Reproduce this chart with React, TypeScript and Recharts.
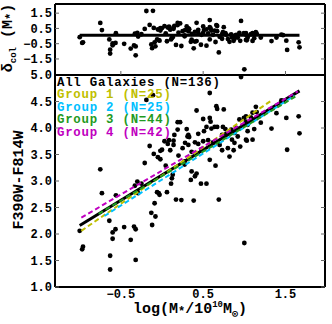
import React from 'react';
import { ComposedChart, Scatter, XAxis, YAxis } from 'recharts';

// log(M*/1e10 Msun) for every galaxy
const logMass = [
  -1.0, -0.97, -0.96, -0.75, -0.73, -0.64, -0.63, -0.63, -0.6, -0.6,
  -0.565, -0.56, -0.46, -0.38, -0.34, -0.32, -0.32, -0.33, -0.29, -0.3,
  -0.21, -0.19, -0.11, -0.15, -0.13, -0.12, -0.1, -0.08, -0.09, -0.06,
  -0.04, -0.03, -0.02, 0.0, -0.02, 0.03, 0.045, 0.06, 0.07, 0.085,
  0.11, 0.12, 0.13, 0.14, 0.14, 0.15, 0.17, 0.19, 0.22, 0.2,
  0.19, 0.235, 0.275, 0.275, 0.3, 0.31, 0.32, 0.32, 0.33, 0.35,
  0.36, 0.385, 0.4, 0.42, 0.4, 0.42, 0.44, 0.44, 0.473, 0.5,
  0.5, 0.51, 0.54, 0.54, 0.56, 0.58, 0.58, 0.59, 0.6, 0.64,
  0.65, 0.66, 0.67, 0.67, 0.69, 0.73, 0.73, 0.74, 0.75, 0.77,
  0.78, 0.82, 0.84, 0.85, 0.87, 0.88, 0.88, 0.92, 0.94, 0.96,
  0.995, 1.0, 1.02, 1.02, 1.02, 1.04, 1.04, 1.03, 1.08, 1.1,
  1.1, 1.14, 1.15, 1.12, 1.33, 1.39, 1.45, 1.47, 1.51, 1.52,
  1.66, 1.67,
  0.25, 0.36, 0.48, 0.62, 0.7, 0.8, -0.05, 0.1, 0.28, 0.9, 1.2, 0.58, 0.95, -0.25,
];

// F390W-F814W colour
const colour = [
  2.06, 1.71, 1.76, 3.22, 2.77, 2.25, 1.59, 1.33, 2.03, 1.91,
  2.09, 2.73, 2.13, 1.89, 2.14, 2.09, 1.51, 2.91, 2.77, 2.99,
  3.34, 4.53, 4.62, 3.66, 2.4, 2.17, 3.51, 2.33, 2.58, 2.79,
  2.77, 2.74, 3.57, 3.59, 3.41, 3.75, 3.29, 2.79, 3.7, 3.77,
  2.95, 3.05, 3.12, 3.76, 3.68, 3.87, 2.65, 4.11, 4.11, 3.48,
  3.97, 2.64, 3.37, 3.31, 3.98, 3.84, 3.68, 3.87, 3.83, 3.02,
  3.18, 2.63, 3.09, 3.14, 3.73, 4.33, 3.89, 3.7, 2.95, 4.17,
  3.75, 3.94, 2.95, 4.02, 3.77, 4.66, 4.19, 4.12, 3.99, 4.02,
  3.29, 4.41, 4.36, 4.02, 2.65, 3.87, 3.58, 4.02, 4.35, 3.98,
  3.89, 3.46, 3.97, 3.78, 3.58, 3.91, 3.72, 3.84, 4.16, 4.96,
  4.19, 1.83, 4.22, 4.12, 3.78, 4.06, 3.94, 3.76, 4.2, 4.29,
  3.78, 4.4, 4.3, 3.98, 3.99, 4.28, 4.52, 4.51, 4.19, 3.59,
  4.22, 3.9,
  3.62, 3.55, 3.6, 3.73, 3.68, 3.62, 3.45, 3.58, 3.72, 4.0, 4.1, 3.4, 3.65, 2.95,
];

// delta_col residuals (top panel)
const deltaCol = [
  -0.07, -0.45, -0.41, 0.86, 0.39, -0.22, -0.89, -1.15, -0.48, -0.6,
  -0.45, 0.19, -0.51, -0.82, -0.61, -0.68, -1.26, 0.15, -0.03, 0.2,
  0.47, 1.64, 1.65, 0.73, -0.55, -0.79, 0.53, -0.67, -0.41, -0.22,
  -0.26, -0.3, 0.52, 0.52, 0.36, 0.65, 0.18, -0.34, 0.56, 0.62,
  -0.22, -0.13, -0.07, 0.56, 0.48, 0.66, -0.58, 0.86, 0.83, 0.22,
  0.72, -0.65, 0.04, -0.02, 0.63, 0.48, 0.31, 0.5, 0.45, -0.38,
  -0.23, -0.8, -0.36, -0.33, 0.28, 0.87, 0.41, 0.22, -0.57, 0.63,
  0.21, 0.39, -0.63, 0.44, 0.17, 1.05, 0.58, 0.5, 0.36, 0.35,
  -0.39, 0.72, 0.66, 0.32, -1.07, 0.11, -0.18, 0.25, 0.58, 0.19,
  0.09, -0.38, 0.11, -0.09, -0.31, 0.01, -0.18, -0.1, 0.21, 0.99,
  0.19, -2.18, 0.19, 0.09, -0.25, 0.01, -0.11, -0.28, 0.12, 0.19,
  -0.32, 0.26, 0.15, -0.14, -0.33, -0.1, 0.09, 0.06, -0.3, -0.91,
  -0.41, -0.74,
  0.32, 0.14, 0.08, 0.08, -0.05, -0.2, 0.43, 0.42, 0.39, 0.08, -0.1, -0.22, -0.31, 0.12,
];

// fit lines: All galaxies + 4 groups
const fitNames = ['All Galaxies', 'Group 1', 'Group 2', 'Group 3', 'Group 4'];
const fitCounts = [136, 25, 25, 44, 42];
const fitStartX = [-1.0, -0.98, -0.7, -0.77, -0.98];
const fitStartY = [2.16, 2.06, 2.34, 2.38, 2.31];
const fitEndX = [1.67, 1.33, 1.61, 1.65, 1.65];
const fitEndY = [4.7, 4.52, 4.61, 4.62, 4.69];

// zero line of the residual panel
const resLineX = [-1.0, 1.67];
const resLineY = [0.05, 0.05];

const xTicks = [-0.5, 0.5, 1.5];
const yTicksBottom = [1.0, 1.5, 2.0, 2.5, 3.0, 3.5, 4.0, 4.5, 5.0];
const yTicksTop = [-1.5, -0.5, 0.5, 1.5];

const fitColors = ['#000000', '#bfbf00', '#00bfff', '#1f9a1f', '#c000c0'];
const MONO = "'Liberation Mono', 'DejaVu Sans Mono', monospace";
const xDomain: [number, number] = [-1.3, 1.98];

const fmt = (v: number) => (v < 0 ? '\u2212' + Math.abs(v).toFixed(1) : v.toFixed(1));
const blank = () => '';
const tickFont = { fontSize: 12, fontFamily: MONO, fontWeight: 'bold', fill: '#000' };

const Dot = (props: any) => <circle cx={props.cx} cy={props.cy} r={2.4} fill="#000" />;
const NoDot = () => <g />;

const mainPoints = logMass.map((x, i) => ({ x, y: colour[i] }));
const residPoints = logMass.map((x, i) => ({ x, y: deltaCol[i] }));
const fitData = fitNames.map((_, i) => [
  { x: fitStartX[i], y: fitStartY[i] },
  { x: fitEndX[i], y: fitEndY[i] },
]);
const resLine = resLineX.map((x, i) => ({ x, y: resLineY[i] }));

const frame = { stroke: '#000', strokeWidth: 2 };
const star = <span style={{ fontSize: 12, position: 'relative', top: 2 }}>*</span>;

function frameAxes(yDomain: [number, number], yTicks: number[]) {
  return [
    <XAxis key="bt" xAxisId="bt" type="number" domain={xDomain} allowDataOverflow ticks={xTicks} interval={0} mirror tickSize={4} tickFormatter={blank} stroke="#666" axisLine={false} />,
    <XAxis key="tp" xAxisId="tp" orientation="top" type="number" domain={xDomain} allowDataOverflow ticks={xTicks} interval={0} mirror tickSize={4} tickFormatter={blank} stroke="#666" axisLine={frame} />,
    <YAxis key="lt" yAxisId="lt" type="number" domain={yDomain} allowDataOverflow ticks={yTicks} interval={0} mirror tickSize={4} tickFormatter={blank} stroke="#666" axisLine={false} />,
    <YAxis key="rt" yAxisId="rt" orientation="right" type="number" domain={yDomain} allowDataOverflow ticks={yTicks} interval={0} mirror tickSize={4} tickFormatter={blank} stroke="#666" axisLine={frame} />,
  ];
}

export default function App() {
  return (
    <div style={{ position: 'absolute', left: 0, top: 0, width: 332, height: 324, background: '#fff', fontFamily: MONO, fontWeight: 'bold' }}>
      {/* bottom panel: colour vs mass */}
      <div style={{ position: 'absolute', left: 0, top: 0 }}>
        <ComposedChart width={332} height={324} margin={{ top: 75, right: 7, bottom: 0, left: 0 }}>
          <XAxis dataKey="x" type="number" domain={xDomain} allowDataOverflow ticks={xTicks} interval={0} tickFormatter={fmt} tickSize={0} tickMargin={2} height={37} axisLine={frame} tick={tickFont} />
          <YAxis dataKey="y" type="number" domain={[1, 5]} allowDataOverflow ticks={yTicksBottom} interval={0} tickFormatter={fmt} tickSize={0} tickMargin={3} width={55} axisLine={frame} tick={tickFont} />
          {frameAxes([1, 5], yTicksBottom)}
          <Scatter data={mainPoints} shape={Dot} isAnimationActive={false} />
          {fitData.map((d, i) => (
            <Scatter
              key={fitNames[i]}
              data={d}
              shape={NoDot}
              isAnimationActive={false}
              line={{ stroke: fitColors[i], strokeWidth: i === 0 ? 3 : 2, strokeDasharray: i === 0 ? undefined : '5 3' }}
            />
          ))}
        </ComposedChart>
      </div>

      {/* top panel: residuals */}
      <div style={{ position: 'absolute', left: 0, top: 0 }}>
        <ComposedChart width={332} height={76} margin={{ top: 4, right: 7, bottom: 1, left: 0 }}>
          <XAxis dataKey="x" type="number" domain={xDomain} allowDataOverflow ticks={xTicks} interval={0} mirror tickSize={4} tickFormatter={blank} stroke="#666" axisLine={frame} />
          <YAxis dataKey="y" type="number" domain={[-2.55, 2.1]} allowDataOverflow ticks={yTicksTop} interval={0} tickFormatter={fmt} tickSize={0} tickMargin={3} width={55} axisLine={frame} tick={tickFont} />
          {frameAxes([-2.55, 2.1], yTicksTop)}
          <Scatter data={residPoints} shape={Dot} isAnimationActive={false} />
          <Scatter data={resLine} shape={NoDot} isAnimationActive={false} line={{ stroke: '#000', strokeWidth: 3 }} />
        </ComposedChart>
      </div>

      {/* legend text inside the lower panel */}
      {fitNames.map((name, i) => (
        <div
          key={name}
          style={{ position: 'absolute', left: 57, top: 76.5 + i * 12.6, fontSize: 12.4, letterSpacing: 0.75, lineHeight: '12px', color: fitColors[i], whiteSpace: 'pre' }}
        >
          {`${name} (N=${fitCounts[i]})`}
        </div>
      ))}

      {/* axis labels */}
      <div style={{ position: 'absolute', left: 190, top: 310, transform: 'translate(-50%, -50%)', fontSize: 15, lineHeight: '16px', whiteSpace: 'nowrap' }}>
        log(M{star}/10<sup style={{ fontSize: 9 }}>10</sup>M<sub style={{ fontSize: 10 }}>{'\u2299'}</sub>)
      </div>
      <div style={{ position: 'absolute', left: 20, top: 180, transform: 'translate(-50%, -50%) rotate(-90deg)', fontSize: 15, lineHeight: '16px', whiteSpace: 'nowrap' }}>
        F390W-F814W
      </div>
      <div style={{ position: 'absolute', left: 11, top: 38, transform: 'translate(-50%, -50%) rotate(-90deg)', fontSize: 15, lineHeight: '16px', whiteSpace: 'nowrap' }}>
        {'\u03b4'}<sub style={{ fontSize: 9 }}>col</sub> (M{star})
      </div>
    </div>
  );
}
